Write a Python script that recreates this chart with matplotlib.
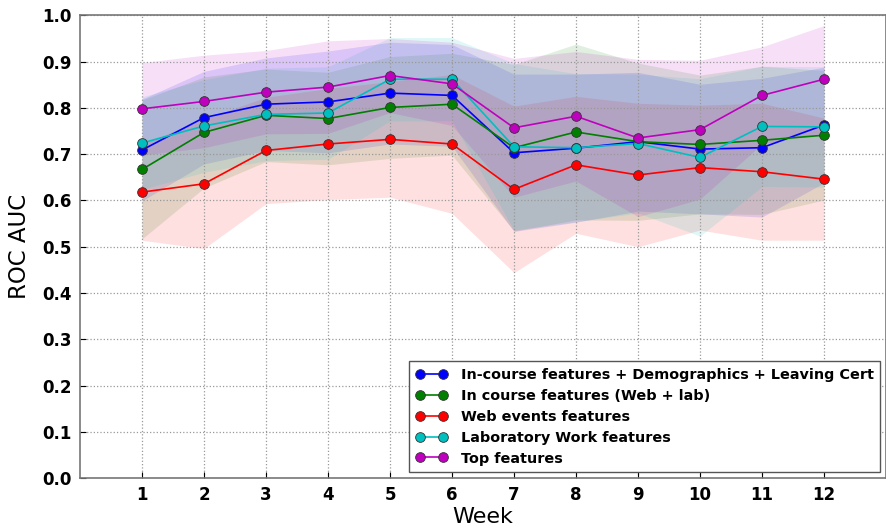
import matplotlib
matplotlib.use("Agg")
import matplotlib.pyplot as plt
import numpy as np

# Semanas y valores medios de ROC AUC
weeks = [1, 2, 3, 4, 5, 6, 7, 8, 9, 10, 11, 12]

demog = [0.709, 0.779, 0.808, 0.813, 0.832, 0.827, 0.703, 0.713, 0.727, 0.711, 0.714, 0.763]
inc = [0.667, 0.747, 0.784, 0.777, 0.801, 0.808, 0.714, 0.748, 0.727, 0.721, 0.730, 0.741]
web = [0.618, 0.636, 0.708, 0.722, 0.732, 0.722, 0.624, 0.677, 0.655, 0.671, 0.662, 0.646]
lab = [0.724, 0.761, 0.786, 0.789, 0.862, 0.862, 0.716, 0.714, 0.723, 0.693, 0.760, 0.759]
top = [0.798, 0.814, 0.834, 0.845, 0.870, 0.852, 0.757, 0.782, 0.735, 0.753, 0.827, 0.862]

# Desviaciones estimadas (bandas)
demog_sd = [0.11, 0.10, 0.10, 0.11, 0.11, 0.11, 0.17, 0.16, 0.15, 0.14, 0.15, 0.125]
inc_sd = [0.15, 0.12, 0.10, 0.10, 0.11, 0.11, 0.18, 0.19, 0.17, 0.15, 0.16, 0.14]
web_sd = [0.104, 0.14, 0.115, 0.12, 0.125, 0.15, 0.18, 0.148, 0.155, 0.135, 0.148, 0.132]
lab_sd = [0.10, 0.10, 0.10, 0.10, 0.09, 0.09, 0.18, 0.16, 0.15, 0.17, 0.13, 0.13]
top_sd = [0.10, 0.10, 0.09, 0.10, 0.08, 0.09, 0.15, 0.14, 0.17, 0.15, 0.105, 0.116]

labels = ["In-course features + Demographics + Leaving Cert",
          "In course features (Web + lab)",
          "Web events features",
          "Laboratory Work features",
          "Top features"]
colors = ["#0000ff", "#007f00", "#ff0000", "#00bfbf", "#bf00bf"]
series = [demog, inc, web, lab, top]
sds = [demog_sd, inc_sd, web_sd, lab_sd, top_sd]

fig = plt.figure(figsize=(8.86, 5.30), dpi=100)
ax = fig.add_axes([0.0903, 0.098, 0.9097, 0.873])

x = np.array(weeks)
for vals, sd, c in zip(series, sds, colors):
    v = np.array(vals)
    s = np.array(sd)
    ax.fill_between(x, v - s, v + s, color=c, alpha=0.12, linewidth=0)
for vals, c, lab_ in zip(series, colors, labels):
    ax.plot(x, vals, color=c, marker="o", markersize=7, markeredgecolor="#333333",
            markeredgewidth=0.6, linewidth=1.2, label=lab_)

ax.set_xlim(0, 13)
ax.set_ylim(0, 1.0)
ax.set_xticks(weeks)
ax.set_yticks(np.arange(0, 1.01, 0.1))
ax.set_yticklabels([f"{t:.1f}" for t in np.arange(0, 1.01, 0.1)])
ax.grid(True, linestyle=":", color="#999999", linewidth=0.9)
ax.tick_params(direction="in", length=4, labelsize=12, colors="black", pad=6)
for t in ax.get_xticklabels() + ax.get_yticklabels():
    t.set_fontweight("bold")
for sp in ax.spines.values():
    sp.set_color("#777777")
    sp.set_linewidth(1.2)

ax.set_xlabel("Week", fontsize=16, labelpad=2)
ax.set_ylabel("ROC AUC", fontsize=16.5, labelpad=8)

leg = ax.legend(loc="lower right", numpoints=2, prop={"weight": "bold", "size": 10.4},
                fancybox=False, framealpha=1, edgecolor="#555555",
                borderpad=0.45, labelspacing=0.48, handlelength=2.2,
                handletextpad=0.9, borderaxespad=0,
                bbox_to_anchor=(0.9926, 0.013))
leg.get_frame().set_linewidth(1.0)

fig.savefig("out.png", dpi=100)
